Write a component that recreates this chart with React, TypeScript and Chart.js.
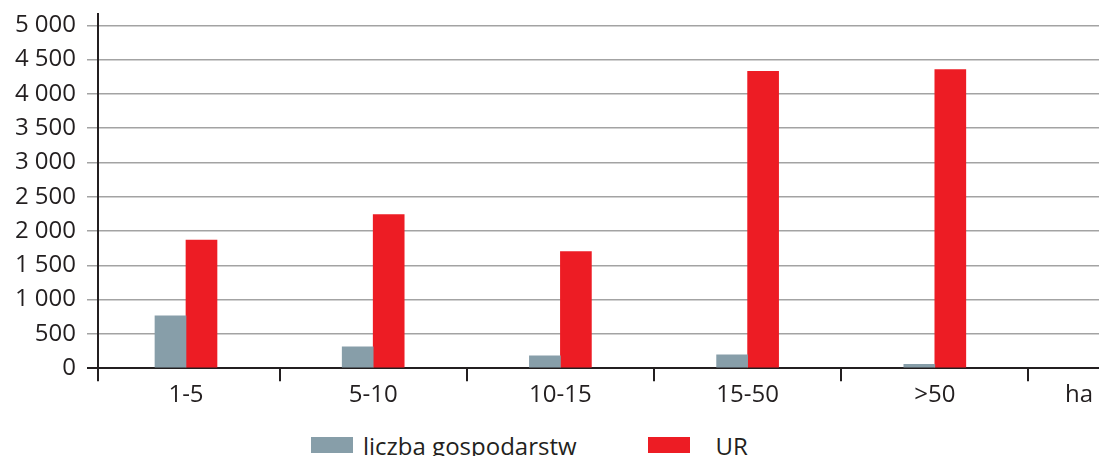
import React, { useEffect, useRef } from 'react';
import { Chart, registerables } from 'chart.js';

Chart.register(...registerables);

// ---- data ----
const categories = ['1-5', '5-10', '10-15', '15-50', '>50'];
const unitLabel = 'ha';
const farmsCount = [765, 311, 180, 195, 58];
const urArea = [1870, 2240, 1700, 4330, 4355];
const seriesNames = ['liczba gospodarstw', 'UR'];
const seriesColors = ['#879ea9', '#ed1c24'];
const yTicks = [0, 500, 1000, 1500, 2000, 2500, 3000, 3500, 4000, 4500, 5000];
const yMax = 5160;

// ---- style ----
const DARK = '#231f20';
const GRID = '#a3a3a3';
const FONT = 'Open Sans';
const X_MIN = -0.47;
const X_MAX = 4.877;
const UNIT_POS = 4.77;

const fmt = (v: number) => String(v).replace(/\B(?=(\d{3})+(?!\d))/g, ' ');

export default function App() {
  const ref = useRef<HTMLCanvasElement | null>(null);

  useEffect(() => {
    if (!ref.current) return;
    const series = [farmsCount, urArea];
    const chart = new Chart(ref.current, {
      type: 'bar',
      data: {
        datasets: series.map((vals, k) => ({
          label: seriesNames[k],
          data: vals.map((v, i) => ({ x: i, y: v })),
          backgroundColor: seriesColors[k],
          borderWidth: 0,
          barThickness: 31,
          xAxisID: 'x',
          yAxisID: 'y',
        })),
      },
      options: {
        animation: false,
        responsive: true,
        maintainAspectRatio: false,
        layout: { padding: 0 },
        plugins: { legend: { display: false }, tooltip: { enabled: false } },
        scales: {
          x: {
            type: 'linear',
            position: 'bottom',
            min: X_MIN,
            max: X_MAX,
            offset: false,
            afterBuildTicks: (s: any) => {
              s.ticks = [X_MIN, ...categories.map((_, i) => i + 0.5)].map((value) => ({ value }));
            },
            ticks: { display: false },
            grid: {
              offset: false,
              drawOnChartArea: false,
              drawTicks: true,
              tickLength: 13,
              color: DARK,
              lineWidth: 2,
            },
            border: { display: true, color: DARK, width: 2 },
          },
          x2: {
            type: 'linear',
            position: 'bottom',
            min: X_MIN,
            max: X_MAX,
            offset: false,
            afterBuildTicks: (s: any) => {
              s.ticks = [...categories.map((_, i) => i), UNIT_POS].map((value) => ({ value }));
            },
            ticks: {
              autoSkip: false,
              maxRotation: 0,
              padding: 0,
              color: DARK,
              font: { family: FONT, size: 24 },
              callback: (_v: any, i: number) => [...categories, unitLabel][i],
            },
            grid: { display: false, drawTicks: false, offset: false },
            border: { display: false },
          },
          y: {
            type: 'linear',
            min: 0,
            max: yMax,
            afterFit: (s: any) => {
              s.width = 98;
            },
            afterBuildTicks: (s: any) => {
              s.ticks = yTicks.map((value) => ({ value }));
            },
            ticks: {
              padding: 11,
              color: DARK,
              font: { family: FONT, size: 24 },
              callback: (v: any) => fmt(Number(v)),
            },
            grid: {
              color: (ctx: any) => (ctx.tick && ctx.tick.value === 0 ? DARK : GRID),
              tickColor: (ctx: any) => (ctx.tick && ctx.tick.value === 0 ? DARK : GRID),
              lineWidth: (ctx: any) => (ctx.tick && ctx.tick.value === 0 ? 2 : 1.5),
              tickLength: 11,
            },
            border: { display: true, color: DARK, width: 2 },
          },
        },
      },
    } as any);
    return () => chart.destroy();
  }, []);

  const legendText: React.CSSProperties = {
    fontFamily: FONT,
    fontSize: 24,
    lineHeight: '24px',
    color: DARK,
    whiteSpace: 'nowrap',
    position: 'relative',
    top: -3,
  };
  const box = (c: string): React.CSSProperties => ({
    width: 42,
    height: 16,
    background: c,
    flex: '0 0 auto',
  });

  return (
    <div
      style={{
        position: 'absolute',
        left: 0,
        top: 0,
        width: 1099,
        height: 456,
        overflow: 'hidden',
        background: '#fff',
      }}
    >
      <div style={{ position: 'absolute', left: 0, top: -11, width: 1099, height: 421 }}>
        <canvas ref={ref} />
      </div>
      <div
        style={{
          position: 'absolute',
          left: 311,
          top: 437,
          display: 'flex',
          alignItems: 'flex-start',
        }}
      >
        <div style={box(seriesColors[0])} />
        <div style={{ ...legendText, marginLeft: 10 }}>{seriesNames[0]}</div>
        <div style={{ ...box(seriesColors[1]), marginLeft: 71 }} />
        <div style={{ ...legendText, marginLeft: 26 }}>{seriesNames[1]}</div>
      </div>
    </div>
  );
}
